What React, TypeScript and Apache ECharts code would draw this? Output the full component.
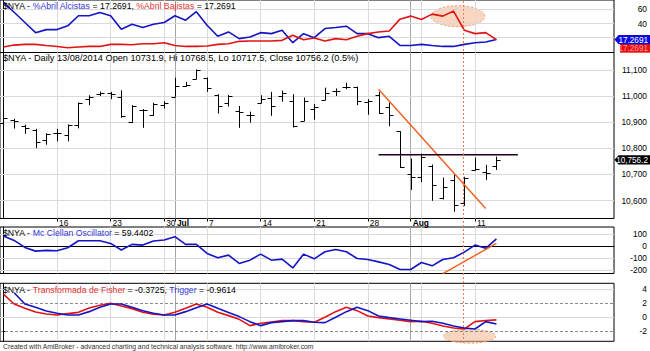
import React, { useEffect, useRef } from "react";
import * as echarts from "echarts";

const FONT = "'Liberation Sans Narrow','Arial Narrow','Liberation Sans',Arial,sans-serif";

// ---- x axis (bar index) ----
const dateTickIdx = [5, 10, 15, 16, 19, 24, 29, 34, 38, 44];
const dateTickLabels = ["16", "23", "30", "Jul", "7", "14", "21", "28", "Aug", "11"];
const gridLineIdx = [5, 10, 15, 16, 19, 24, 29, 34, 38, 39, 44];
const monthIdx = [16, 38];

// ---- tick values ----
const priceTicks = [10600, 10700, 10800, 10900, 11000, 11100];
const abrilTicks = [20, 40, 60];
const abrilLabels = [40, 60];
const mcTicks = [100, 0, -100, -200];
const fisherTicks = [4, 2, 0, -2];

// ---- price bars (09/06/2014 .. 13/08/2014) ----
const opens = [10896, 10909, 10887, 10871, 10834, 10858, 10852, 10890, 10989, 11008, 11013, 10998, 10900, 10948, 10929, 10967, 10999, 11039, 11068, 11071, 11005, 10975, 10942, 10928, 10976, 10992, 11001, 10982, 10906, 10951, 10986, 11019, 11036, 11036, 10979, 11003, 10960, 10866, 10701, 10691, 10733, 10608, 10680, 10590, 10716, 10711, 10731.9];
const highs = [10944, 10913, 10891, 10875, 10858, 10875, 10892, 10976, 11004, 11018, 11017, 11023, 10966, 10951, 10975, 10981, 11071, 11055, 11103, 11072, 11008, 11005, 10963, 10941, 11004, 11017, 11022, 11008, 10995, 10970, 11033, 11030, 11052, 11037, 10989, 11017, 10976, 10866, 10761, 10780, 10738, 10688, 10699, 10691, 10765, 10737, 10768.5];
const lows = [10891, 10876, 10856, 10801, 10814, 10827, 10827, 10877, 10966, 11001, 10989, 10917, 10898, 10879, 10925, 10953, 10998, 11037, 11065, 11017, 10934, 10961, 10879, 10899, 10973, 10925, 10979, 10880, 10905, 10910, 10985, 11001, 11027, 10966, 10929, 10932, 10885, 10725, 10641, 10670, 10599, 10604, 10557, 10579, 10715, 10679, 10717.5];
const closes = [10915, 10906, 10880, 10824, 10856, 10861, 10889, 10973, 10998, 11013, 11009, 10923, 10961, 10947, 10971, 10973, 11039, 11043, 11100, 11032, 10962, 11001, 10938, 10930, 10991, 10963, 11014, 10887, 10982, 10957, 11014, 11022, 11037, 10980, 10981, 10936, 10929, 10728, 10691, 10767, 10660, 10651, 10582, 10687, 10722, 10705, 10756.2];

// ---- indicator panes ----
const alcistas = [70, 56, 41.4, 27.1, 31.4, 31.4, 36.7, 51, 51, 55.7, 51, 31.9, 39, 34.3, 39, 41.4, 51, 44.8, 56.7, 37.6, 21.9, 28.1, 18.6, 21, 27.1, 25.7, 30.5, 12.9, 25.7, 20, 32.9, 34.3, 36.2, 25.7, 25.7, 20, 21.9, 9, 9, 10.5, 9, 7.6, 7.6, 10.5, 12.9, 13.8, 17.2691];
const bajistas = [6.7, 9.5, 10.5, 10.5, 9, 7.6, 5.7, 6.7, 7.6, 7.6, 10.5, 10.5, 10, 11.4, 11.4, 12.9, 9, 7.6, 7.6, 8.1, 10.5, 11.4, 14.8, 15.2, 15.2, 15.2, 16.2, 23.3, 17.1, 19.5, 15.2, 18.6, 17.1, 21.9, 25.7, 28.1, 29.5, 46.2, 50.5, 45.7, 53.3, 50.5, 57.6, 30.5, 25.7, 27.1, 17.2691];
const mcclellan = [83, 47, -11, -42, -36, -39, -14, 44, 44, 44, 22, -33, 14, 8, 42, 50, 78, 14, 14, -61, -97, -75, -144, -117, -67, -117, -108, -181, -67, -106, -47, -28, -47, -103, -111, -131, -153, -194, -194, -136, -164, -111, -97, -50, 8, -19, 59.4402];
const fisher = [3.3, 1.9, 1.29, 0.76, 0.48, 0.33, 0.52, 0.71, 1.33, 1.71, 2.0, 1.62, 1.24, 0.71, 0.43, 0.33, 0.71, 1.29, 1.9, 1.43, 0.71, 0.24, -0.29, -1.19, -0.86, -0.67, -0.48, -0.48, -0.62, -0.71, 0, 0.81, 1.43, 0.95, 0.19, -0.05, -0.24, -0.43, -0.62, -0.57, -0.86, -1.24, -1.52, -1.67, -0.62, -0.45, -0.3725];
const trigger = [null, 3.52, 1.9, 1.43, 0.9, 0.57, 0.33, 0.33, 0.81, 1.43, 1.9, 1.9, 1.43, 0.95, 0.57, 0.33, 0.33, 0.81, 1.38, 1.9, 1.29, 0.67, 0.1, -0.62, -1.19, -0.76, -0.62, -0.48, -0.48, -0.71, -0.76, 0, 0.81, 1.43, 0.95, 0.19, -0.05, -0.24, -0.43, -0.62, -0.57, -0.86, -1.24, -1.52, -1.67, -0.62, -0.9614];

// ---- drawn studies (bar index, value) ----
const downTrend = [[35, 11027], [45, 10569]];
const resistance = [[35, 10776], [48, 10776]];
const mcTrend = [[41.0, -228], [46, 22]];
const markerIdx = 42.9;
const ellipseTop = [42.4, 50.4];
const ellipseFisher = [43.5, -2.7];

const X_MIN = -0.32;
const X_MAX = 56.97;
const BLUE = "#1414c4";
const RED = "#e01414";

const fmtThousands = (v: number, d = 0) => {
  const s = v.toFixed(d);
  const [i, f] = s.split(".");
  const neg = i.startsWith("-");
  const digits = neg ? i.slice(1) : i;
  const withC = digits.replace(/\B(?=(\d{3})+(?!\d))/g, ",");
  return (neg ? "-" : "") + withC + (f ? "." + f : "");
};

function buildOption() {
  const grids = [
    { top: 0, height: 52.5 },
    { top: 52.5, height: 166 },
    { top: 227, height: 46.5 },
    { top: 283.3, height: 58 },
  ].map((g) => ({ left: 0, right: 36, ...g, show: true, borderColor: "#000", borderWidth: 1, containLabel: false }));

  const xAxes = grids.map((_, i) => {
    const base: any = { type: "value", gridIndex: i, min: X_MIN, max: X_MAX, splitLine: { show: false }, axisLine: { show: false } };
    if (i !== 1) return { ...base, axisTick: { show: false }, axisLabel: { show: false } };
    return {
      ...base,
      axisTick: { show: true, customValues: dateTickIdx, length: 3, lineStyle: { color: "#000" } },
      axisLabel: {
        show: true,
        customValues: dateTickIdx,
        align: "left",
        margin: 0,
        padding: [0, 0, 0, 2],
        fontSize: 8.4,
        fontFamily: FONT,
        color: "#000",
        formatter: (v: number) => {
          const k = dateTickIdx.indexOf(Math.round(v));
          const s = k >= 0 ? dateTickLabels[k] : "";
          return monthIdx.includes(Math.round(v)) ? `{m|${s}}` : s;
        },
        rich: { m: { fontWeight: "bold", fontSize: 8.4, fontFamily: FONT, color: "#000" } },
      },
    };
  });

  const yAxis = (i: number, min: number, max: number, ticks: number[], labels: number[], fmt: (v: number) => string) => ({
    type: "value",
    gridIndex: i,
    position: "right",
    min,
    max,
    axisLine: { show: true, lineStyle: { color: "#000" } },
    axisTick: { show: true, customValues: ticks, length: 3, lineStyle: { color: "#000" } },
    axisLabel: { show: true, customValues: labels, align: "right", margin: 33, fontSize: 8.4, fontFamily: FONT, color: "#000", formatter: fmt },
    splitLine: { show: false },
  });

  const yAxes = [
    yAxis(0, -1, 73.3, abrilTicks, abrilLabels, (v) => String(v)),
    yAxis(1, 10531, 11168, priceTicks, priceTicks, (v) => fmtThousands(v)),
    yAxis(2, -227.5, 158, mcTicks, mcTicks, (v) => String(v)),
    yAxis(3, -3.43, 4.86, fisherTicks, fisherTicks, (v) => String(v)),
  ];

  const vLines = gridLineIdx.map((x) => ({
    xAxis: x,
    lineStyle: { color: monthIdx.includes(x) ? "#a4a4a4" : "#dadada", width: 1, type: "solid" },
  }));
  const hLines = (vals: number[], color = "#dadada", type: any = "solid") =>
    vals.map((y) => ({ yAxis: y, lineStyle: { color, width: 1, type } }));
  const gridMark = (data: any[]) => ({ symbol: "none", silent: true, z: 1, label: { show: false }, emphasis: { disabled: true }, data });

  const idx = opens.map((_, i) => i);
  const ohlc = idx.map((i) => [i, opens[i], highs[i], lows[i], closes[i]]);
  const toXY = (arr: (number | null)[]) => arr.map((v, i) => [i, v]);

  const lineSeries = (name: string, data: any[], gi: number, color: string, extra: any = {}) => ({
    name,
    type: "line",
    xAxisIndex: gi,
    yAxisIndex: gi,
    data,
    symbol: "none",
    showSymbol: false,
    lineStyle: { color, width: 1.6 },
    itemStyle: { color },
    silent: true,
    ...extra,
  });

  const series: any[] = [
    {
      name: "NYA",
      type: "custom",
      xAxisIndex: 1,
      yAxisIndex: 1,
      data: ohlc,
      encode: { x: 0, y: [1, 2, 3, 4] },
      silent: true,
      renderItem: (params: any, api: any) => {
        const i = api.value(0);
        const ph = api.coord([i, api.value(2)]);
        const pl = api.coord([i, api.value(3)]);
        const po = api.coord([i, api.value(1)]);
        const pc = api.coord([i, api.value(4)]);
        const x = Math.round(ph[0]) + 0.5;
        const st = { stroke: "#000", lineWidth: 1 };
        return {
          type: "group",
          children: [
            { type: "line", shape: { x1: x, y1: ph[1], x2: x, y2: pl[1] }, style: st },
            { type: "line", shape: { x1: x - 4, y1: Math.round(po[1]) + 0.5, x2: x, y2: Math.round(po[1]) + 0.5 }, style: st },
            { type: "line", shape: { x1: x, y1: Math.round(pc[1]) + 0.5, x2: x + 4, y2: Math.round(pc[1]) + 0.5 }, style: st },
          ],
        };
      },
      markLine: gridMark([...vLines, ...hLines(priceTicks)]),
    },
    lineSeries("%Abril Alcistas", toXY(alcistas), 0, BLUE, { markLine: gridMark([...vLines, ...hLines(abrilTicks)]) }),
    lineSeries("%Abril Bajistas", toXY(bajistas), 0, RED),
    lineSeries("Mc Clellan Oscillator", toXY(mcclellan), 2, BLUE, {
      markLine: gridMark([...vLines, ...hLines([100, -100, -200]), ...hLines([0], "#000")]),
    }),
    lineSeries("Transformada de Fisher", toXY(fisher), 3, RED, {
      markLine: gridMark([...vLines, ...hLines([4, 0]), ...hLines([2, -2], "#8a8a8a", [3, 2])]),
    }),
    lineSeries("Trigger", toXY(trigger), 3, BLUE, { z: 3 }),
    lineSeries("downtrend", downTrend, 1, "#ee6424", { lineStyle: { color: "#ee6424", width: 1.5 }, z: 4 }),
    lineSeries("resistance", resistance, 1, "#1e001e", { lineStyle: { color: "#1e001e", width: 1.5 }, z: 4 }),
    lineSeries("mctrend", mcTrend, 2, "#ee6424", { lineStyle: { color: "#ee6424", width: 1.5 }, z: 4 }),
  ];

  return {
    animation: false,
    backgroundColor: "#fff",
    grid: grids,
    xAxis: xAxes,
    yAxis: yAxes,
    series,
  };
}

export default function App() {
  const ref = useRef<HTMLDivElement>(null);
  useEffect(() => {
    if (!ref.current) return;
    const chart = echarts.init(ref.current, null, { renderer: "svg" });
    chart.setOption(buildOption());

    const px = (g: number, x: number, y: number) => chart.convertToPixel({ gridIndex: g } as any, [x, y]) as number[];
    const last = opens.length - 1;
    const T = (text: string, y: number, rich: any, size = 8.7) => ({
      type: "text",
      x: 3,
      y,
      z: 50,
      silent: true,
      style: { text, rich, fontSize: size, fontFamily: FONT, fill: "#000", verticalAlign: "middle", align: "left" },
    });
    const rs = (fill: string, size = 8.7) => ({ fill, fontSize: size, fontFamily: FONT });

    const tTop = T(
      `{k|$NYA - }{b|%Abril Alcistas}{k| = ${alcistas[last].toFixed(4)}, }{r|%Abril Bajistas}{k| = ${bajistas[last].toFixed(4)}}`,
      5.5,
      { k: rs("#000"), b: rs("#3636d6"), r: rs("#e23232") }
    );
    const chg = ((closes[last] / closes[last - 1] - 1) * 100).toFixed(1);
    const tMain = T(
      `{k|$NYA - Daily 13/08/2014 Open ${opens[last]}, Hi ${highs[last]}, Lo ${lows[last]}, Close ${closes[last]} (${chg}%)}`,
      58,
      { k: rs("#000", 9.2) },
      9.2
    );
    const tMc = T(`{k|$NYA - }{b|Mc Clellan Oscillator}{k| = ${mcclellan[last].toFixed(4)}}`, 232.5, {
      k: rs("#000"),
      b: rs("#3636d6"),
    });
    const tFi = T(
      `{k|$NYA - }{r|Transformada de Fisher}{k| = ${fisher[last].toFixed(4)}, }{b|Trigger}{k| = ${(trigger[last] as number).toFixed(4)}}`,
      289.5,
      { k: rs("#000"), r: rs("#e23232"), b: rs("#3636d6") }
    );
    const footer = {
      type: "text",
      x: 3,
      y: 346.5,
      z: 50,
      silent: true,
      style: {
        text: "Created with AmiBroker - advanced charting and technical analysis software. http://www.amibroker.com",
        fontSize: 6.8,
        fontFamily: FONT,
        fill: "#333",
        verticalAlign: "middle",
      },
    };

    // marker vertical dotted line
    const mx = Math.round(px(1, markerIdx, 10800)[0]) + 0.5;
    const marker = {
      type: "line",
      z: 6,
      silent: true,
      shape: { x1: mx, y1: 1, x2: mx, y2: 343 },
      style: { stroke: "#f07a50", lineWidth: 1, lineDash: [2, 2] },
    };

    const e1 = px(0, ellipseTop[0], ellipseTop[1]);
    const e2 = px(3, ellipseFisher[0], ellipseFisher[1]);
    const ell = (c: number[], rx: number, ry: number) => ({
      type: "ellipse",
      z: 0,
      silent: true,
      shape: { cx: c[0], cy: c[1], rx, ry },
      style: { fill: "rgba(246,180,140,0.55)", stroke: "#e8a27a", lineWidth: 1, lineDash: [2, 2] },
    });

    const badge = (y: number, x0: number, fill: string, text: string, tColor: string, arrow: boolean) => {
      const h = 4.6;
      const pts = arrow
        ? [[x0, y], [x0 + 4, y - h], [650, y - h], [650, y + h], [x0 + 4, y + h]]
        : [[x0, y - h], [650, y - h], [650, y + h], [x0, y + h]];
      return [
        { type: "polygon", z: 40, silent: true, shape: { points: pts }, style: { fill } },
        {
          type: "text",
          z: 41,
          silent: true,
          x: 648,
          y: y + 0.5,
          style: { text, fill: tColor, fontSize: 8.2, fontFamily: FONT, align: "right", verticalAlign: "middle" },
        },
      ];
    };
    const yb = px(0, 0, alcistas[last])[1];
    const yr = px(0, 0, bajistas[last])[1] + 8.5;
    const yp = px(1, 0, closes[last])[1];

    chart.setOption({
      graphic: [
        ell(e1, 27, 10.5),
        ell(e2, 26, 7),
        marker,
        tTop,
        tMain,
        tMc,
        tFi,
        footer,
        ...badge(yr, 620, "#e81010", bajistas[last].toFixed(4), "#ff9a9a", false),
        ...badge(yb, 614.5, "#0a0ae0", alcistas[last].toFixed(4), "#fff", true),
        ...badge(yp, 614.5, "#000", fmtThousands(closes[last], 1), "#fff", true),
      ],
    });

    return () => chart.dispose();
  }, []);

  return (
    <div
      ref={ref}
      style={{ position: "fixed", left: 0, top: 0, width: 650, height: 351, background: "#fff" }}
    />
  );
}
